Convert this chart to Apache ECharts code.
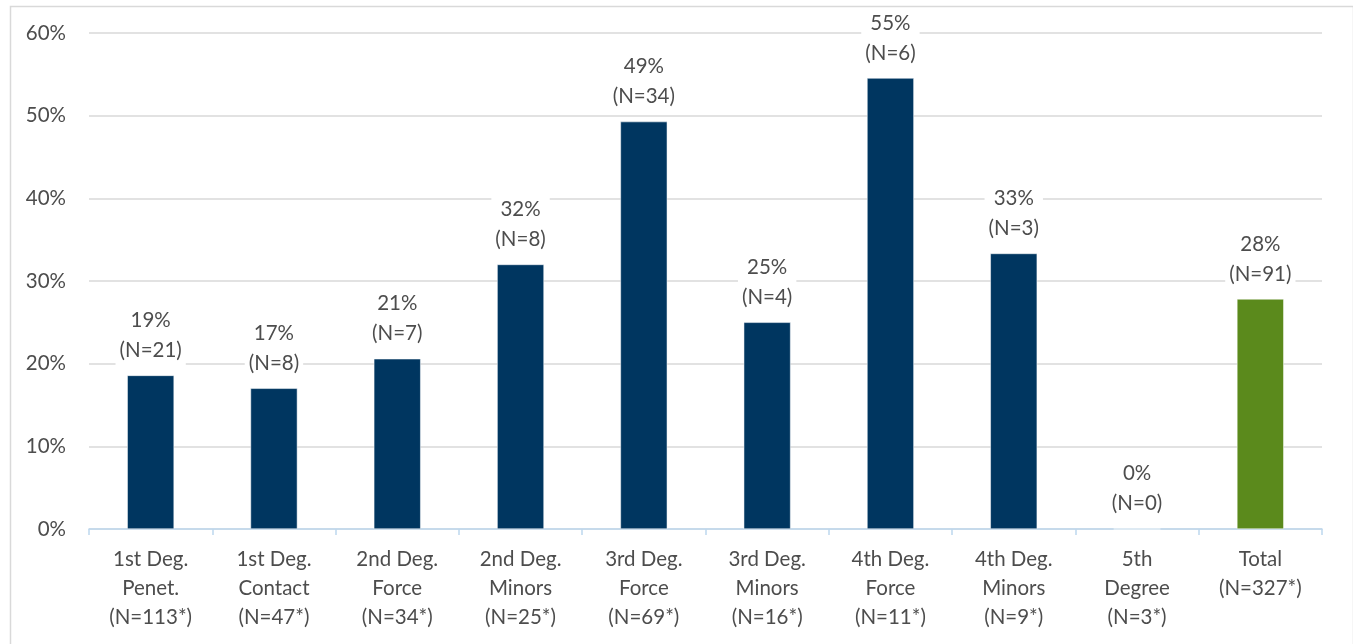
<!DOCTYPE html>
<html>
<head>
<meta charset="utf-8">
<script src="https://cdn.jsdelivr.net/npm/echarts@6/dist/echarts.min.js"></script>
<style>html,body{margin:0;padding:0;background:#fff;}#c{width:1353px;height:644px;}</style>
</head>
<body>
<div id="c"></div>
<script>
const categories = ["1st Deg.\nPenet.\n(N=113*)", "1st Deg.\nContact\n(N=47*)", "2nd Deg.\nForce\n(N=34*)", "2nd Deg.\nMinors\n(N=25*)", "3rd Deg.\nForce\n(N=69*)", "3rd Deg.\nMinors\n(N=16*)", "4th Deg.\nForce\n(N=11*)", "4th Deg.\nMinors\n(N=9*)", "5th\nDegree\n(N=3*)", "Total\n(N=327*)"];
const values = [18.58, 17.02, 20.59, 32.0, 49.28, 25.0, 54.55, 33.33, 0, 27.83];
const counts = [21, 8, 7, 8, 34, 4, 6, 3, 0, 91];
const barColors = ["#003660", "#003660", "#003660", "#003660", "#003660", "#003660", "#003660", "#003660", "#003660", "#5B8A1C"];
const yTicks = [0, 10, 20, 30, 40, 50, 60];

const chart = echarts.init(document.getElementById('c'));
const FONT = 'Lato, "Open Sans", sans-serif';
const TXT = '#4d4d4d';
chart.setOption({
  animation: false,
  backgroundColor: '#fff',
  graphic: [{
    type: 'rect', left: 8, top: 4, silent: true,
    shape: { width: 1343, height: 680 },
    style: { fill: 'none', stroke: '#d9d9d9', lineWidth: 1.5 }
  }],
  grid: { left: 89, right: 31, top: 33, bottom: 115 },
  xAxis: {
    type: 'category',
    data: categories,
    axisLine: { lineStyle: { color: '#BDD7EE', width: 1.5 } },
    axisTick: { show: true, alignWithLabel: false, length: 6, lineStyle: { color: '#BDD7EE', width: 1.5 } },
    axisLabel: { color: TXT, fontFamily: FONT, fontSize: 20.5, lineHeight: 29, margin: 16, interval: 0 }
  },
  yAxis: {
    type: 'value',
    min: yTicks[0], max: yTicks[yTicks.length - 1], interval: 10,
    axisLine: { show: false },
    axisTick: { show: false },
    splitLine: { lineStyle: { color: '#d9d9d9', width: 1.5 } },
    axisLabel: { color: TXT, fontFamily: FONT, fontSize: 20.5, margin: 23, formatter: '{value}%' }
  },
  series: [{
    type: 'bar',
    barWidth: '38%',
    data: values.map((v, i) => ({ value: v, itemStyle: { color: barColors[i] } })),
    itemStyle: { borderColor: '#ffffff', borderWidth: 0.5 },
    label: {
      show: true,
      position: 'top',
      distance: 10,
      color: TXT,
      fontFamily: FONT,
      fontSize: 20.5,
      lineHeight: 30,
      backgroundColor: '#ffffff',
      padding: [0, 4],
      formatter: p => Math.round(p.value) + '%\n(N=' + counts[p.dataIndex] + ')'
    }
  }]
});
</script>
</body>
</html>
